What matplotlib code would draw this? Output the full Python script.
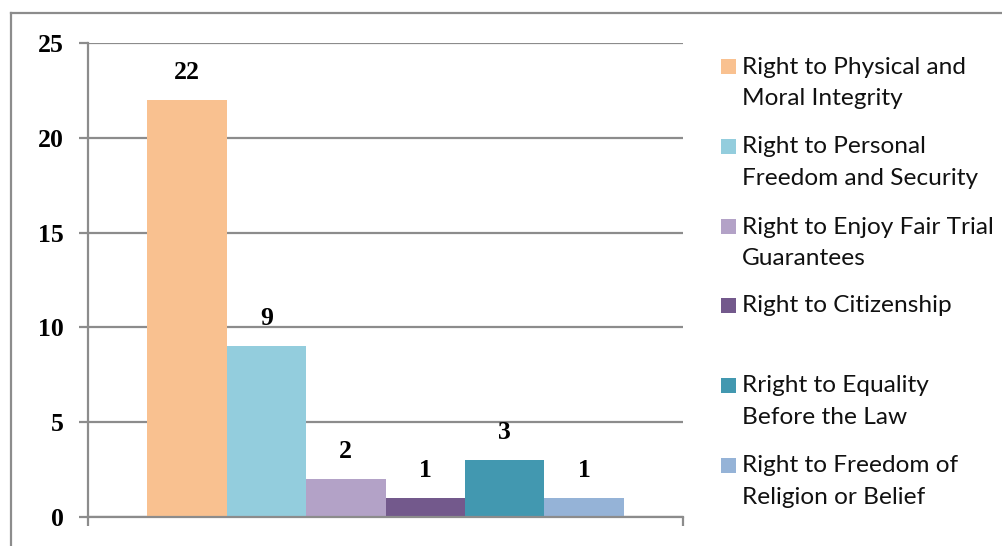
import matplotlib
matplotlib.use("Agg")
import matplotlib.pyplot as plt
from matplotlib.patches import Rectangle
from matplotlib.lines import Line2D

# Data
categories = [
    "Right to Physical and\nMoral Integrity",
    "Right to Personal\nFreedom and Security",
    "Right to Enjoy Fair Trial\nGuarantees",
    "Right to Citizenship",
    "Rright to Equality\nBefore the Law",
    "Right to Freedom of\nReligion or Belief",
]
values = [22, 9, 2, 1, 3, 1]
colors = ["#F9C190", "#93CDDD", "#B3A2C7", "#73598C", "#4298B0", "#95B3D7"]
yticks = [0, 5, 10, 15, 20, 25]

W, H = 1003, 546
fig = plt.figure(figsize=(W / 100, H / 100), dpi=100)

def fx(px):
    return px / W

def fy(py):
    return 1 - py / H

# Outer chart frame (partly outside the canvas on the right and bottom)
fig.add_artist(Line2D([fx(11), fx(11)], [fy(13), fy(560)], color="#8C8C8C", lw=1.6))
fig.add_artist(Line2D([fx(11), fx(1020)], [fy(13), fy(13)], color="#8C8C8C", lw=1.6))

ax = fig.add_axes([fx(88), fy(517), fx(683) - fx(88), fy(43) - fy(517)])
ax.set_xlim(0, 1)
ax.set_ylim(0, 25)

grid_color = "#8C8C8C"
ax.set_yticks(yticks)
ax.yaxis.grid(True, color=grid_color, lw=1.6)
ax.set_axisbelow(True)
for side in ["top", "right"]:
    ax.spines[side].set_visible(False)
for side in ["left", "bottom"]:
    ax.spines[side].set_color(grid_color)
    ax.spines[side].set_linewidth(1.6)

ax.set_xticks([0, 1])
ax.set_xticklabels(["", ""])
ax.tick_params(axis="x", direction="out", length=6.5, width=1.6, color=grid_color)
ax.tick_params(axis="y", direction="out", length=6.5, width=1.6, color=grid_color, pad=11)
for lab in ax.get_yticklabels():
    lab.set_fontfamily("Liberation Serif")
    lab.set_fontweight("bold")
    lab.set_fontsize(18.5)

# One cluster of adjacent bars centred in the plot
n = len(values)
bar_w = 0.1336
for i, (v, c) in enumerate(zip(values, colors)):
    xc = 0.5 + (i - (n - 1) / 2) * bar_w
    ax.bar(xc, v, width=bar_w, color=c, edgecolor="none", zorder=2)
    ax.annotate(str(v), (xc, v), xytext=(0, 20), textcoords="offset points",
                ha="center", va="center", fontfamily="Liberation Serif",
                fontweight="bold", fontsize=18.5, annotation_clip=False)

# Legend drawn at the right
entry_y = [67, 147, 227, 306, 386, 466]
line_gap = 31.5
for lab, c, y0 in zip(categories, colors, entry_y):
    fig.add_artist(Rectangle((fx(721), fy(y0 + 7)), fx(15), fy(0) - fy(15),
                             facecolor=c, edgecolor="none"))
    for k, line in enumerate(lab.split("\n")):
        fig.text(fx(742), fy(y0 + k * line_gap), line, ha="left", va="center",
                 fontfamily="Lato", fontsize=17.6, color="#111111")

fig.savefig("out.png", dpi=100)
